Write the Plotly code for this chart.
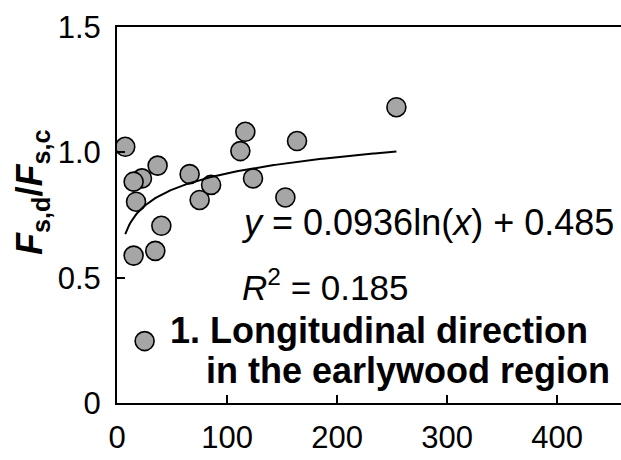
import numpy as np
import plotly.graph_objects as go

# Data
x_vals = [7.5, 22.7, 15.1, 17.3, 36.9, 40.3, 34.8, 15.1, 25.1, 66.0, 75.1, 85.5,
          112.1, 116.6, 123.6, 153.0, 163.6, 253.9]
y_vals = [1.022, 0.896, 0.883, 0.803, 0.947, 0.707, 0.607, 0.588, 0.247, 0.913, 0.810, 0.870,
          1.005, 1.082, 0.896, 0.820, 1.045, 1.180]

# Trendline coefficients shown on the chart: y = a ln(x) + b
trend_a = 0.0936
trend_b = 0.485
r_squared = 0.185

x_tickvals = [0, 100, 200, 300, 400]
x_ticktext = ["0", "100", "200", "300", "400"]
y_tickvals = [0, 0.5, 1.0, 1.5]
y_ticktext = ["0", "0.5", "1.0", "1.5"]

FONT = "Liberation Sans, Arial, sans-serif"

tx = np.linspace(min(x_vals), max(x_vals), 200)
ty = trend_a * np.log(tx) + trend_b

fig = go.Figure()
fig.add_trace(go.Scatter(
    x=x_vals, y=y_vals, mode="markers",
    marker=dict(size=19, color="#a6a6a6", line=dict(color="black", width=1.6)),
    showlegend=False, hoverinfo="skip"))
fig.add_trace(go.Scatter(
    x=tx, y=ty, mode="lines", line=dict(color="black", width=2),
    showlegend=False, hoverinfo="skip"))

fig.update_layout(
    width=621, height=460,
    margin=dict(l=117, r=0, t=27, b=57),
    paper_bgcolor="white", plot_bgcolor="white",
    font=dict(family=FONT, color="black"),
    xaxis=dict(range=[0, 458], tickvals=x_tickvals, ticktext=x_ticktext,
               showgrid=False, zeroline=False, showline=True, linecolor="black",
               linewidth=2, mirror=True, ticks="inside", ticklen=8, tickwidth=2,
               tickcolor="black", tickfont=dict(size=31, family=FONT),
               ticklabelstandoff=6),
    yaxis=dict(range=[0, 1.5], tickvals=y_tickvals, ticktext=y_ticktext,
               showgrid=False, zeroline=False, showline=True, linecolor="black",
               linewidth=2, ticks="inside", ticklen=8, tickwidth=2,
               tickcolor="black", tickfont=dict(size=31, family=FONT),
               ticklabelstandoff=8),
)

annos = [
    dict(text="<i>y</i> = %.4fln(<i>x</i>) + %.3f" % (trend_a, trend_b),
         x=111, y=0.722, xref="x", yref="y", xanchor="left", yanchor="middle",
         font=dict(size=36, family=FONT)),
    dict(text="<i>R</i><sup>2</sup> = %.3f" % r_squared,
         x=112, y=0.471, xref="x", yref="y", xanchor="left", yanchor="middle",
         font=dict(size=35, family=FONT)),
    dict(text="<b>1. Longitudinal direction</b>",
         x=46.0, y=0.291, xref="x", yref="y", xanchor="left", yanchor="middle",
         font=dict(size=36, family=FONT)),
    dict(text="<b>in the earlywood region</b>",
         x=79.0, y=0.128, xref="x", yref="y", xanchor="left", yanchor="middle",
         font=dict(size=36, family=FONT)),
    dict(text="<b><i>F</i><sub>s,d</sub>/<i>F</i><sub>s,c</sub></b>",
         x=(32 - 117) / 504, y=(403 - 193) / 376, xref="paper", yref="paper",
         xanchor="center", yanchor="middle", textangle=-90,
         font=dict(size=36, family=FONT)),
]
for a in annos:
    a["showarrow"] = False
    fig.add_annotation(**a)

fig.write_html("out.html")
